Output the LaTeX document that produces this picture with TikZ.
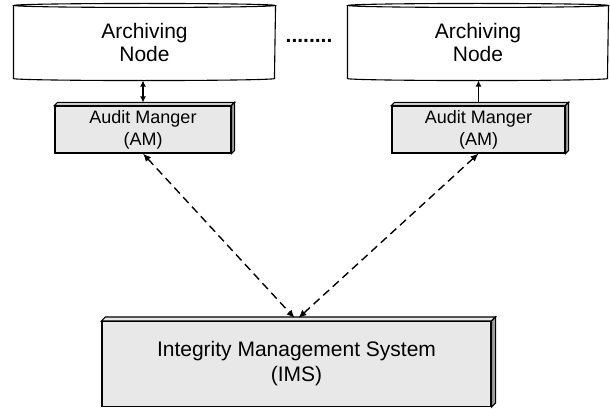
\documentclass[tikz,border=0pt]{standalone}
\usepackage{fontspec}
\setmainfont{Liberation Sans}
\usetikzlibrary{arrows.meta}
\definecolor{slabfront}{gray}{0.91}
\definecolor{slabside}{gray}{0.62}
\tikzset{
  archnode/.style={minimum width=#1, minimum height=72pt, inner sep=0pt,
    align=center, font=\fontsize{21}{23}\selectfont},
  slab/.style={draw, fill=slabfront, inner sep=0pt, align=center},
  duolink/.style={line width=1.5pt, {Latex[length=6pt,width=6pt]}-{Latex[length=6pt,width=6pt]}},
  unolink/.style={line width=1.5pt, -{Latex[length=6pt,width=6pt]}},
  dashlink/.style={line width=1.4pt, dash pattern=on 8pt off 5pt,
    {Latex[length=8pt,width=7pt]}-{Latex[length=8pt,width=7pt]}}
}
\begin{document}
\begin{tikzpicture}[x=1pt,y=1pt,line width=1.1pt]
  \useasboundingbox (0,0) rectangle (610,408);

  % archiving nodes
  \node[archnode=261pt] (archA) at (144.5,366) {Archiving\\Node};
  \node[archnode=260pt] (archB) at (478,366) {Archiving\\Node};
  \foreach \n/\r in {archA/130.5,archB/130} {
    \draw (\n.north) ellipse [x radius=\r, y radius=2];
    \draw (\n.north west) -- (\n.south west)
      arc [start angle=180, end angle=360, x radius=\r, y radius=2]
      -- (\n.north east);
  }
  \node[anchor=base, font=\fontsize{21}{23}\selectfont\bfseries] (dots) at (309,365) {........};

  % audit managers and IMS
  \node[slab, minimum width=176pt, minimum height=47pt,
    font=\fontsize{18}{22}\selectfont] (amA) at (143,278.5) {Audit Manger\\(AM)};
  \node[slab, minimum width=173pt, minimum height=47pt,
    font=\fontsize{18}{22}\selectfont] (amB) at (478.5,278.5) {Audit Manger\\(AM)};
  \node[slab, minimum width=389pt, minimum height=85pt,
    font=\fontsize{21}{25}\selectfont] (ims) at (296.5,44) {Integrity Management System\\(IMS)};
  \foreach \n/\d in {amA/3,amB/3,ims/4} {
    \draw[fill=slabfront] (\n.north west) -- ++(\d,\d)
      -- ([shift={(\d,\d)}]\n.north east) -- (\n.north east) -- cycle;
    \draw[fill=slabside] (\n.north east) -- ++(\d,\d)
      -- ([shift={(\d,\d)}]\n.south east) -- (\n.south east) -- cycle;
  }

  % connectors
  \draw[duolink] ([yshift=3]amA.north) -- ([yshift=-2]amA.north |- archA.south);
  \draw[unolink] ([yshift=3]amB.north) -- ([yshift=-2]amB.north |- archB.south);
  \draw[dashlink] (amA.south) -- ([shift={(-2,3)}]ims.north);
  \draw[dashlink] (amB.south) -- ([shift={(2,3)}]ims.north);
\end{tikzpicture}
\end{document}
